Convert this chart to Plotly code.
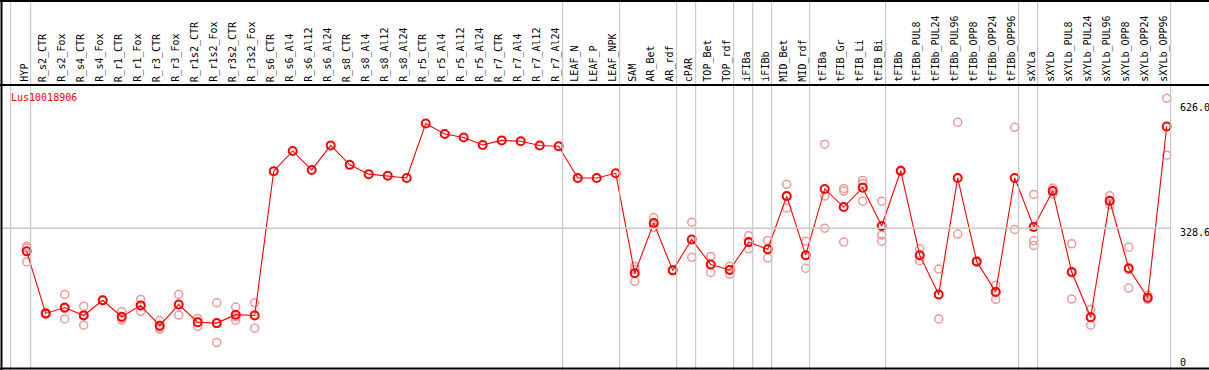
import plotly.graph_objects as go

categories = ["HYP", "R_s2_CTR", "R_s2_Fox", "R_s4_CTR", "R_s4_Fox", "R_r1_CTR", "R_r1_Fox",
              "R_r3_CTR", "R_r3_Fox", "R_r1s2_CTR", "R_r1s2_Fox", "R_r3s2_CTR", "R_r3s2_Fox",
              "R_s6_CTR", "R_s6_Al4", "R_s6_Al12", "R_s6_Al24", "R_s8_CTR", "R_s8_Al4",
              "R_s8_Al12", "R_s8_Al24", "R_r5_CTR", "R_r5_Al4", "R_r5_Al12", "R_r5_Al24",
              "R_r7_CTR", "R_r7_Al4", "R_r7_Al12", "R_r7_Al24", "LEAF_N", "LEAF_P", "LEAF_NPK",
              "SAM", "AR_Bet", "AR_rdf", "cPAR", "TOP_Bet", "TOP_rdf", "iFIBa", "iFIBb",
              "MID_Bet", "MID_rdf", "tFIBa", "tFIB_Gr", "tFIB_Li", "tFIB_Bi", "tFIBb",
              "tFIBb_PUL8", "tFIBb_PUL24", "tFIBb_PUL96", "tFIBb_OPP8", "tFIBb_OPP24",
              "tFIBb_OPP96", "sXYLa", "sXYLb", "sXYLb_PUL8", "sXYLb_PUL24", "sXYLb_PUL96",
              "sXYLb_OPP8", "sXYLb_OPP24", "sXYLb_OPP96"]

mean_values = [274, 127, 141, 122, 158, 119, 146, 98, 148, 106, 104, 124, 122,
               464, 512, 467, 525, 479, 457, 453, 448, 577, 552, 544, 526,
               537, 535, 525, 523, 448, 448, 459,
               222, 341, 229, 302, 243, 230, 296, 279, 405, 265,
               422, 379, 425, 334, 465, 265, 172, 448, 250, 178, 448,
               332, 417, 225, 118, 394, 234, 164, 570]

rep1 = [286, 127, 172, 144, 158, 131, 160, 110, 172, 115, 152, 142, 152,
        None, None, None, None, None, None, None, None, None, None, None, None,
        None, None, None, None, None, None, None,
        238, 354, 230, 343, 262, 239, 311, 300, 433, 298,
        528, 423, 442, 393, 466, 280, 232, 580, 251, 194, 568,
        409, 424, 292, 136, 406, 284, 170, 637]
rep2 = [282, 125, 114, 99, 157, 111, 132, 90, 123, 96, 58, 111, 92,
        None, None, None, None, None, None, None, None, None, None, None, None,
        None, None, None, None, None, None, None,
        231, 331, 228, 260, 224, 220, 280, 258, 377, 234,
        405, 417, 435, 313, 463, 252, 114, 315, 248, 160, 326,
        299, 418, 161, 99, 385, 187, 161, 502]
rep3 = [249, 129, 138, 124, 159, 116, 146, 94, 148, 106, 103, 119, 123,
        None, None, None, None, None, None, None, None, None, None, None, None,
        None, None, None, None, None, None, None,
        203, 339, None, None, 243, 231, 296, 279, 404, 264,
        329, 296, 393, 298, None, 265, 171, None, None, 179, None,
        288, 410, 223, 118, 392, 231, 161, None]

# group separators (placed before these category indices)
separator_before = [1, 29, 32, 35, 36, 38, 39, 40, 42, 46, 53, 54, 61]

tick_values = [626.0, 328.6, 0]
tick_labels = ["626.0", "328.6", "0"]
gene_name = "Lus10018906"

W, H = 1209, 370
PX_X = 19.0          # pixels per category
X_OFF = 26.7         # pixel of first category
PX_Y = 0.422         # pixels per unit
Y0_PIX = 367         # pixel row of value 0

xr0 = -X_OFF / PX_X
xr1 = xr0 + W / PX_X
yr0 = -(H - Y0_PIX) / PX_Y
yr1 = yr0 + H / PX_Y

xs = list(range(len(categories)))
RED = "#ff0000"
PINK = "#ec9a9a"
MONO = "DejaVu Sans Mono"

fig = go.Figure()
for rep in (rep1, rep2, rep3):
    fig.add_trace(go.Scatter(
        x=xs, y=rep, mode="markers",
        marker=dict(symbol="circle-open", size=8, color=PINK, line=dict(width=1.5, color=PINK)),
        showlegend=False, hoverinfo="skip"))

fig.add_trace(go.Scatter(
    x=xs, y=mean_values, mode="lines+markers",
    line=dict(color=RED, width=1.1),
    marker=dict(symbol="circle-open", size=8, color=RED, line=dict(width=2, color=RED)),
    showlegend=False))

shapes = []
sep_pix_offset = 0.79
shapes.append(dict(type="line", xref="x", yref="paper", x0=-0.842, x1=-0.842, y0=0, y1=1,
                   line=dict(color="#c0c0c0", width=1)))
for k in separator_before:
    xv = k - sep_pix_offset
    shapes.append(dict(type="line", xref="x", yref="paper", x0=xv, x1=xv, y0=0, y1=1,
                       line=dict(color="#c0c0c0", width=1)))
shapes.append(dict(type="line", xref="paper", yref="y", x0=0, x1=(61 - sep_pix_offset - xr0) / (xr1 - xr0),
                   y0=tick_values[1], y1=tick_values[1], line=dict(color="#c8c8c8", width=1.5)))
shapes.append(dict(type="line", xref="paper", yref="paper", x0=0, x1=1, y0=1 - 1 / H, y1=1 - 1 / H,
                   line=dict(color="black", width=2)))
shapes.append(dict(type="line", xref="paper", yref="paper", x0=0, x1=1, y0=1 - 85 / H, y1=1 - 85 / H,
                   line=dict(color="black", width=2)))
shapes.append(dict(type="line", xref="paper", yref="paper", x0=0, x1=1, y0=1 - 368.5 / H, y1=1 - 368.5 / H,
                   line=dict(color="black", width=2)))
shapes.append(dict(type="line", xref="paper", yref="paper", x0=1.5 / W, x1=1.5 / W, y0=0, y1=1,
                   line=dict(color="black", width=2)))

annotations = []
for k, name in enumerate(categories):
    annotations.append(dict(x=k - 0.16, y=1 - 84 / H, xref="x", yref="paper", text=name,
                            textangle=-90, showarrow=False, xanchor="center", yanchor="bottom",
                            font=dict(family=MONO, size=10, color="black")))
annotations.append(dict(x=9 / W, y=1 - 97 / H, xref="paper", yref="paper", text=gene_name,
                        showarrow=False, xanchor="left", yanchor="middle",
                        font=dict(family=MONO, size=10, color=RED)))
for v, lab in zip(tick_values, tick_labels):
    shift = 5 if v == 0 else -4.5
    annotations.append(dict(x=1178 / W, y=v, xref="paper", yref="y", text=lab, showarrow=False,
                            xanchor="left", yanchor="middle", yshift=shift,
                            font=dict(family=MONO, size=10, color="black")))

fig.update_layout(
    width=W, height=H, margin=dict(l=0, r=0, t=0, b=0),
    paper_bgcolor="white", plot_bgcolor="white",
    xaxis=dict(range=[xr0, xr1], visible=False, fixedrange=True),
    yaxis=dict(range=[yr0, yr1], visible=False, fixedrange=True),
    shapes=shapes, annotations=annotations, showlegend=False,
)

fig.write_html("out.html", config={"displayModeBar": False},
               post_script="document.body.style.margin='0';document.body.style.overflow='hidden';")
